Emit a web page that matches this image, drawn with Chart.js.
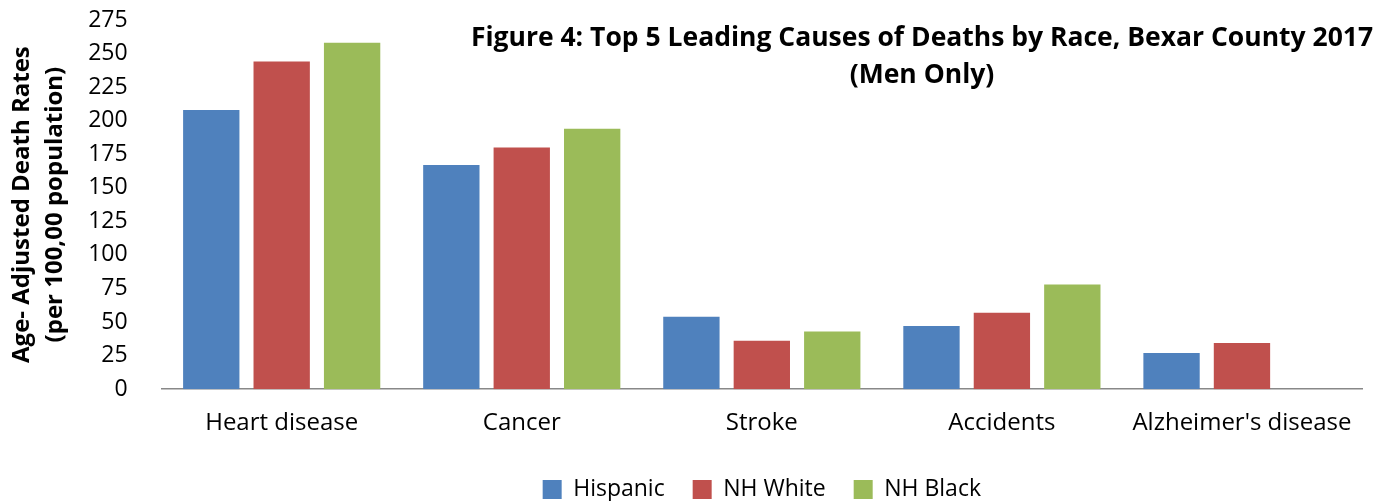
<!DOCTYPE html>
<html>
<head>
<meta charset="utf-8">
<script src="https://cdn.jsdelivr.net/npm/chart.js@4"></script>
<style>
  html, body { margin: 0; padding: 0; background: #fff; }
  #wrap { width: 1392px; height: 501px; }
</style>
</head>
<body>
<div id="wrap"><canvas id="chart" width="1392" height="501"></canvas></div>
<script>
// data
const causes = ['Heart disease', 'Cancer', 'Stroke', 'Accidents', "Alzheimer's disease"];
const hispanic = [208, 167, 54, 47, 27];
const nhWhite = [244, 180, 36, 57, 34.5];
const nhBlack = [258, 194, 43, 78, null];
const yTicks = [0, 25, 50, 75, 100, 125, 150, 175, 200, 225, 250, 275];

const FONT = "'Open Sans', 'Liberation Sans', sans-serif";

// title sits inside the plot area, top-right
const titlePlugin = {
  id: 'insideTitle',
  afterDraw(chart) {
    const ctx = chart.ctx;
    ctx.save();
    ctx.fillStyle = '#000';
    ctx.font = `bold 26.5px ${FONT}`;
    ctx.textAlign = 'center';
    ctx.textBaseline = 'middle';
    ctx.fillText('Figure 4: Top 5 Leading Causes of Deaths by Race, Bexar County 2017', 922, 38);
    ctx.fillText('(Men Only)', 922, 75);
    ctx.restore();
  }
};

new Chart(document.getElementById('chart').getContext('2d'), {
  type: 'bar',
  data: {
    labels: causes,
    datasets: [
      { label: 'Hispanic', data: hispanic, backgroundColor: '#4f81bd' },
      { label: 'NH White', data: nhWhite, backgroundColor: '#c0504d' },
      { label: 'NH Black', data: nhBlack, backgroundColor: '#9bbb59' }
    ]
  },
  options: {
    responsive: false,
    animation: false,
    layout: { padding: { left: 5, right: 30, top: 20, bottom: -10 } },
    datasets: {
      bar: { categoryPercentage: 0.88, barPercentage: 0.8 }
    },
    plugins: {
      legend: {
        position: 'bottom',
        fullSize: false,
        labels: {
          font: { family: FONT, size: 23 },
          color: '#000',
          boxWidth: 19,
          boxHeight: 19,
          padding: 28
        }
      },
      tooltip: { enabled: false }
    },
    scales: {
      x: {
        grid: { display: false },
        border: { color: '#888', width: 1.5 },
        ticks: { font: { family: FONT, size: 24 }, color: '#000', padding: 12 }
      },
      y: {
        min: 0,
        max: 275,
        afterBuildTicks: axis => { axis.ticks = yTicks.map(v => ({ value: v })); },
        // let the top tick label hang above the plot area like the original
        afterFit: axis => { axis.paddingTop = 0; },
        grid: { display: false },
        border: { display: false },
        ticks: { font: { family: FONT, size: 23 }, color: '#000', padding: 26, autoSkip: false },
        title: {
          display: true,
          text: ['Age- Adjusted Death Rates', '(per 100,00 population)'],
          font: { family: FONT, size: 24, weight: 'bold', lineHeight: 1.4 },
          color: '#000',
          padding: { top: 0, bottom: -10 }
        }
      }
    }
  },
  plugins: [titlePlugin]
});
</script>
</body>
</html>
